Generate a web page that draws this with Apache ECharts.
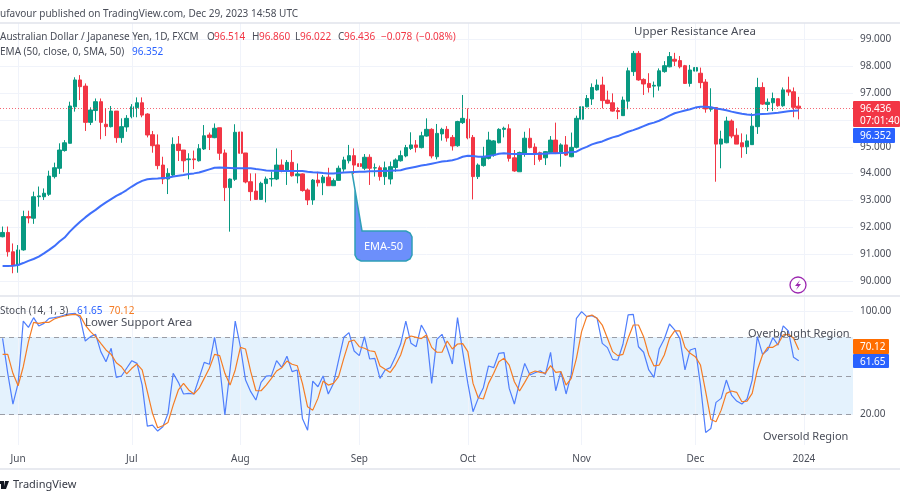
<!DOCTYPE html>
<html>
<head>
<meta charset="utf-8">
<title>AUD/JPY</title>
<style>
  html, body { margin: 0; padding: 0; background: #fff; }
  #chart { width: 900px; height: 500px; }
</style>
<script src="https://cdn.jsdelivr.net/npm/echarts@6/dist/echarts.min.js"></script>
</head>
<body>
<div id="chart"></div>
<script>
const days = [
  'May 29','May 30','May 31','Jun 1','Jun 2','Jun 5','Jun 6','Jun 7','Jun 8','Jun 9','Jun 12','Jun 13','Jun 14','Jun 15','Jun 16',
  'Jun 19','Jun 20','Jun 21','Jun 22','Jun 23','Jun 26','Jun 27','Jun 28','Jun 29','Jun 30','Jul 3','Jul 4','Jul 5','Jul 6','Jul 7',
  'Jul 10','Jul 11','Jul 12','Jul 13','Jul 14','Jul 17','Jul 18','Jul 19','Jul 20','Jul 21','Jul 24','Jul 25','Jul 26','Jul 27','Jul 28',
  'Jul 31','Aug 1','Aug 2','Aug 3','Aug 4','Aug 7','Aug 8','Aug 9','Aug 10','Aug 11','Aug 14','Aug 15','Aug 16','Aug 17','Aug 18',
  'Aug 21','Aug 22','Aug 23','Aug 24','Aug 25','Aug 28','Aug 29','Aug 30','Aug 31','Sep 1','Sep 4','Sep 5','Sep 6','Sep 7','Sep 8',
  'Sep 11','Sep 12','Sep 13','Sep 14','Sep 15','Sep 18','Sep 19','Sep 20','Sep 21','Sep 22','Sep 25','Sep 26','Sep 27','Sep 28','Sep 29',
  'Oct 2','Oct 3','Oct 4','Oct 5','Oct 6','Oct 9','Oct 10','Oct 11','Oct 12','Oct 13','Oct 16','Oct 17','Oct 18','Oct 19','Oct 20',
  'Oct 23','Oct 24','Oct 25','Oct 26','Oct 27','Oct 30','Oct 31','Nov 1','Nov 2','Nov 3','Nov 6','Nov 7','Nov 8','Nov 9','Nov 10',
  'Nov 13','Nov 14','Nov 15','Nov 16','Nov 17','Nov 20','Nov 21','Nov 22','Nov 23','Nov 24','Nov 27','Nov 28','Nov 29','Nov 30','Dec 1',
  'Dec 4','Dec 5','Dec 6','Dec 7','Dec 8','Dec 11','Dec 12','Dec 13','Dec 14','Dec 15','Dec 18','Dec 19','Dec 20','Dec 21','Dec 22',
  'Dec 25','Dec 26','Dec 27','Dec 28','Dec 29','Jan 1','Jan 2','Jan 3','Jan 4','Jan 5','Jan 8','Jan 9','Jan 10','Jan 11','Jan 12'
]
const monthDays = ['Jun 1', 'Jul 3', 'Aug 1', 'Sep 1', 'Oct 2', 'Nov 1', 'Dec 1', 'Jan 1']
const monthNames = ['Jun', 'Jul', 'Aug', 'Sep', 'Oct', 'Nov', 'Dec', '2024']
const priceTicks = [90, 91, 92, 93, 94, 95, 96, 97, 98, 99]
const stochGrid = [20, 60, 100]
const stochTicks = [20, 100]
const stochBands = [20, 50, 80]

// open, close, low, high
const ohlc = [
  [91.65,91.81,91.63,92.03],[91.81,91.09,90.91,92.03],[91.09,90.60,90.29,91.40],[90.60,91.16,90.31,91.34],[91.16,92.40,91.13,92.62],
  [92.40,92.35,92.15,92.62],[92.34,93.14,92.13,93.33],[93.14,93.17,92.77,93.52],[93.14,93.27,93.02,93.45],[93.23,93.91,93.17,94.11],
  [93.89,94.22,93.82,94.41],[94.20,94.88,93.99,95.13],[94.86,95.15,94.82,95.25],[95.13,96.52,95.13,96.68],[96.49,97.49,96.31,97.59],
  [97.49,97.24,96.74,97.67],[97.26,95.91,95.59,97.36],[95.91,96.37,95.81,96.47],[96.35,96.68,95.97,96.80],[96.68,95.91,95.28,96.80],
  [95.84,95.75,95.40,96.43],[95.75,96.33,95.72,96.52],[96.33,95.34,95.15,96.33],[95.34,95.75,95.15,96.06],[95.74,96.06,95.56,96.18],
  [96.12,96.49,96.06,96.59],[96.46,96.64,96.10,96.84],[96.64,96.18,96.10,96.84],[96.22,95.44,95.35,96.25],[95.45,95.04,94.78,95.59],
  [95.07,94.30,94.16,95.46],[94.32,93.80,93.61,94.63],[93.80,94.01,93.24,94.20],[93.95,95.09,93.89,95.35],[95.10,94.86,94.47,95.40],
  [94.88,94.48,94.05,94.88],[94.52,94.55,93.79,94.76],[94.55,94.52,94.17,94.86],[94.48,94.93,94.45,95.10],[94.92,95.41,94.88,95.81],
  [95.44,95.35,94.88,95.53],[95.34,95.69,95.32,95.87],[95.71,94.76,94.51,95.71],[94.77,93.48,92.98,94.90],[93.48,93.80,91.84,93.82],
  [93.79,95.54,93.73,95.84],[95.55,94.76,94.59,95.81],[94.77,93.69,93.64,94.77],[93.70,93.33,92.99,94.01],[93.35,93.04,93.04,94.01],
  [93.04,93.64,93.02,93.70],[93.63,93.80,92.93,93.89],[93.80,93.82,93.52,94.07],[93.80,94.32,93.76,94.94],[94.32,94.10,94.05,94.53],
  [94.10,94.42,93.58,94.51],[94.42,93.92,93.89,94.88],[93.92,93.99,93.64,94.38],[93.99,93.37,93.33,94.01],[93.39,93.02,92.83,93.45],
  [93.02,93.76,92.84,93.80],[93.76,93.66,93.52,94.07],[93.66,93.87,93.20,93.95],[93.87,93.55,93.55,94.22],[93.55,93.74,93.54,93.82],
  [93.75,94.20,93.74,94.30],[94.17,94.51,94.07,94.63],[94.48,94.67,94.38,95.07],[94.67,94.32,93.99,94.94],[94.37,94.27,93.89,94.38],
  [94.20,94.61,94.13,94.73],[94.61,94.20,93.58,94.72],[94.21,94.22,93.89,94.38],[94.22,93.89,93.74,94.30],[93.89,94.22,93.58,94.45],
  [93.80,94.26,93.60,94.45],[94.23,94.51,94.07,94.57],[94.48,94.67,94.45,94.86],[94.66,94.97,94.61,95.07],[94.94,95.07,94.88,95.54],
  [95.07,94.98,94.79,95.25],[94.97,95.41,94.94,95.56],[95.40,95.65,95.38,96.06],[95.65,94.66,94.57,95.69],[94.63,95.50,94.53,95.85],
  [95.48,95.65,95.23,95.71],[95.65,95.33,95.19,95.77],[95.35,95.03,94.86,95.44],[95.04,95.94,95.00,95.97],[95.90,96.06,95.85,96.93],
  [96.03,95.33,95.28,96.43],[95.35,93.89,93.04,95.44],[93.89,94.32,93.80,94.38],[94.30,94.61,94.26,95.00],[94.57,95.25,94.53,95.56],
  [94.69,95.22,94.63,95.25],[95.15,95.65,95.13,95.69],[95.65,95.69,95.35,95.75],[95.67,94.57,94.45,95.84],[94.59,94.10,94.07,94.88],
  [94.07,94.79,94.07,94.82],[94.76,95.32,94.63,95.56],[95.32,94.97,94.94,95.69],[94.99,94.76,94.32,95.13],[94.78,94.53,94.45,94.82],
  [94.59,94.82,94.32,94.84],[94.79,95.25,94.76,95.40],[95.25,94.76,94.73,95.90],[94.76,95.07,94.26,95.13],[95.07,94.69,94.66,95.40],
  [94.63,94.98,94.61,95.53],[94.98,96.06,94.94,96.16],[96.03,96.49,95.62,96.52],[96.49,96.80,96.47,96.93],[96.78,97.21,96.56,97.36],
  [97.12,97.30,97.09,97.51],[97.30,96.72,96.43,97.61],[96.74,96.62,96.59,97.09],[96.64,96.33,96.31,96.99],[96.35,96.31,96.03,96.47],
  [96.16,96.74,96.15,96.87],[96.70,97.83,96.40,97.95],[97.80,98.48,97.64,98.57],[98.48,97.49,97.46,98.57],[97.51,97.34,96.93,97.55],
  [97.36,97.21,97.02,97.74],[97.26,97.29,96.84,97.43],[97.26,97.83,97.09,97.92],[97.80,98.02,97.76,98.19],[97.98,98.36,97.96,98.53],
  [98.26,98.19,98.01,98.50],[98.21,97.98,97.92,98.38],[98.02,97.36,97.34,98.05],[97.36,97.86,97.24,98.05],[97.82,97.95,97.71,98.05],
  [97.74,97.39,97.18,97.95],[97.41,96.41,96.27,97.52],[96.40,96.47,96.31,97.18],[96.46,95.10,93.70,96.47],[95.10,95.29,94.20,95.60],
  [95.15,95.96,95.13,96.12],[95.96,95.40,95.32,96.02],[95.43,95.10,95.10,95.69],[95.15,95.00,94.59,95.50],[95.00,95.22,94.73,95.46],
  [95.08,95.77,95.07,96.25],[95.75,97.21,95.48,97.57],[97.21,96.59,96.56,97.40],[96.58,96.66,96.33,96.80],[96.64,96.80,96.33,97.02],
  [96.79,96.53,96.49,96.80],[96.53,97.12,96.49,97.21],[97.12,97.04,96.90,97.61],[97.05,96.47,96.10,97.21],[96.514,96.436,96.022,96.860]
]
const ema = [
  90.56,90.56,90.57,90.60,90.67,90.75,90.82,90.91,91.03,91.16,91.30,91.47,91.62,91.84,92.03,
  92.21,92.37,92.52,92.65,92.80,92.93,93.05,93.17,93.27,93.39,93.52,93.64,93.73,93.79,93.81,
  93.82,93.84,93.85,93.89,93.92,93.95,93.99,94.01,94.04,94.10,94.16,94.22,94.23,94.22,94.21,
  94.20,94.20,94.20,94.20,94.17,94.15,94.12,94.11,94.11,94.10,94.10,94.10,94.10,94.10,94.07,
  94.05,94.04,94.02,94.01,94.01,94.02,94.04,94.05,94.06,94.07,94.07,94.09,94.09,94.10,94.10,
  94.11,94.12,94.13,94.18,94.22,94.26,94.30,94.33,94.37,94.41,94.45,94.47,94.50,94.55,94.63,
  94.67,94.66,94.63,94.63,94.66,94.69,94.74,94.76,94.74,94.73,94.73,94.73,94.73,94.73,94.74,
  94.74,94.76,94.76,94.77,94.78,94.81,94.82,94.92,95.00,95.09,95.15,95.20,95.28,95.35,95.40,
  95.48,95.56,95.62,95.69,95.77,95.85,95.90,95.97,96.06,96.16,96.25,96.30,96.35,96.40,96.46,
  96.49,96.49,96.47,96.43,96.40,96.36,96.31,96.27,96.23,96.20,96.18,96.21,96.22,96.23,96.25,
  96.27,96.30,96.32,96.34,96.352
]
const stochK = [
  79.0,51.9,28.1,44.1,92.4,87.5,95.0,88.6,90.6,94.5,95.0,95.8,97.1,97.9,98.4,
  95.0,76.9,80.3,82.1,68.7,60.9,71.3,48.8,49.8,55.8,61.7,59.6,42.8,11.0,11.8,
  7.2,10.5,20.9,51.9,44.9,35.9,36.4,35.9,48.0,60.4,58.9,79.8,57.6,19.6,54.5,
  92.4,72.5,46.7,37.7,31.2,44.9,49.8,50.1,61.7,56.5,65.1,53.2,54.5,17.0,7.9,
  45.9,41.5,49.8,35.9,44.1,62.2,79.8,83.4,69.2,65.6,80.3,63.0,63.5,48.0,54.5,
  56.3,64.8,74.6,92.4,75.1,72.5,89.3,82.1,44.1,78.2,82.1,71.3,59.1,95.0,68.7,
  44.1,22.2,32.5,40.8,57.6,56.3,67.4,67.9,40.2,28.1,44.9,59.6,50.6,52.4,53.9,
  51.1,68.2,38.4,53.2,35.9,51.1,94.5,99.7,95.8,96.6,94.5,75.1,71.8,62.7,62.0,
  74.4,97.1,97.6,72.5,68.2,54.5,48.8,70.7,78.5,90.1,85.5,79.0,54.5,70.0,71.3,
  42.8,6.1,9.2,29.4,32.5,46.7,35.1,30.4,28.1,32.0,46.7,80.3,66.6,70.0,79.5,
  73.8,88.6,84.7,64.3,61.65
]
const stochD = [
  66.6,66.6,51.9,42.3,57.0,76.4,91.4,90.6,91.4,91.4,94.0,95.3,96.3,97.1,97.6,
  96.6,89.3,84.2,80.3,75.1,70.0,66.6,60.1,57.0,51.4,55.8,59.1,54.5,37.7,20.9,
  9.8,11.3,13.9,27.3,39.0,44.1,39.0,35.9,40.2,48.0,55.8,66.6,65.6,51.9,42.8,
  54.5,72.0,70.7,53.2,38.4,38.4,42.8,48.0,53.7,56.3,61.4,58.9,57.8,44.1,26.0,
  23.4,32.5,45.9,42.8,44.1,49.3,63.5,76.4,77.7,72.5,71.3,69.4,68.7,57.6,55.0,
  52.6,58.3,66.1,78.5,80.8,79.8,78.8,81.6,72.0,68.2,68.2,76.9,70.7,74.6,74.9,
  68.7,44.1,33.0,32.0,44.1,51.9,60.9,63.5,58.3,45.4,38.2,44.9,51.9,53.7,52.6,
  52.1,57.8,52.6,53.2,42.8,48.0,63.5,84.2,95.8,97.1,94.5,89.3,79.0,68.7,65.6,
  66.6,79.0,89.3,89.3,80.3,66.1,57.6,58.3,66.1,79.0,84.7,84.7,72.0,67.4,64.8,
  58.3,37.7,16.2,14.4,23.4,36.4,38.2,37.2,29.9,30.4,36.4,54.5,66.1,72.0,72.0,
  74.6,81.6,82.1,79.0,70.12
]
const lastClose = 96.436

const font = '"Noto Sans", sans-serif'
const up = '#089981'
const down = '#f23645'
const blue = '#2962ff'
const orange = '#f57c24'
const textGrey = '#4a4e59'
const gridGrey = '#f0f3fa'

function label(text, x, y, color, extra) {
  return {
    type: 'text',
    z: 20,
    style: Object.assign({ text, x, y: y + 1, fill: color || textGrey, font: '10px ' + font, textVerticalAlign: 'middle' }, extra)
  }
}
function box(x, y, width, height, color) {
  return { type: 'rect', z: 19, shape: { x, y, width, height, r: 1 }, style: { fill: color } }
}
function sep(y) {
  return { type: 'line', z: 18, shape: { x1: 0, y1: y, x2: 900, y2: y }, style: { stroke: '#e0e3eb', lineWidth: 1.5 } }
}
const monthLines = {
  silent: true,
  symbol: 'none',
  animation: false,
  label: { show: false },
  lineStyle: { color: gridGrey, type: 'solid', width: 1 },
  data: monthDays.map(d => ({ xAxis: d }))
}

const chart = echarts.init(document.getElementById('chart'), null, { renderer: 'canvas' })
chart.setOption({
  animation: false,
  backgroundColor: '#fff',
  grid: [
    { left: -2, top: 23, width: 855, height: 273 },
    { left: -2, top: 297, width: 855, height: 148 }
  ],
  xAxis: [
    {
      type: 'category', gridIndex: 0, data: days,
      axisLine: { show: false }, axisTick: { show: false }, axisLabel: { show: false }, splitLine: { show: false }
    },
    {
      type: 'category', gridIndex: 1, data: days,
      axisLine: { show: false }, axisTick: { show: false }, splitLine: { show: false },
      axisLabel: {
        margin: 9,
        fontFamily: font,
        fontSize: 10,
        color: textGrey,
        interval: (i, v) => monthDays.includes(v),
        formatter: v => monthNames[monthDays.indexOf(v)]
      }
    }
  ],
  yAxis: [
    {
      type: 'value', gridIndex: 0, position: 'right', min: 89.443, max: 99.611, scale: true,
      axisLine: { show: false },
      axisTick: { show: false, customValues: priceTicks },
      splitLine: { lineStyle: { color: gridGrey, width: 1 } },
      axisLabel: {
        customValues: priceTicks, margin: 7, fontFamily: font, fontSize: 10, color: textGrey, padding: [2, 0, 0, 0],
        formatter: v => v.toFixed(3)
      }
    },
    {
      type: 'value', gridIndex: 1, position: 'right', min: -3.6, max: 111,
      axisLine: { show: false },
      axisTick: { show: false, customValues: stochGrid },
      splitLine: { lineStyle: { color: gridGrey, width: 1 } },
      axisLabel: {
        customValues: stochTicks, margin: 7, fontFamily: font, fontSize: 10, color: textGrey, padding: [2, 0, 0, 0],
        formatter: v => v.toFixed(2)
      }
    }
  ],
  series: [
    {
      type: 'candlestick', name: 'AUDJPY', xAxisIndex: 0, yAxisIndex: 0, data: ohlc, barWidth: 4,
      itemStyle: { color: up, color0: down, borderColor: up, borderColor0: down, borderWidth: 1 },
      markLine: monthLines
    },
    {
      type: 'line', name: 'EMA', xAxisIndex: 0, yAxisIndex: 0, data: ema, showSymbol: false, smooth: false,
      lineStyle: { color: '#3f6ffb', width: 2 }, z: 5,
      markLine: {
        silent: true, symbol: 'none', animation: false, label: { show: false },
        lineStyle: { color: down, type: [1, 2], width: 1, opacity: 0.75 },
        data: [{ yAxis: lastClose }]
      }
    },
    {
      type: 'line', name: 'Band', xAxisIndex: 1, yAxisIndex: 1, data: stochK.map(() => null), z: 1,
      markArea: {
        silent: true,
        itemStyle: { color: '#e4f2fd' },
        data: [[{ yAxis: 20 }, { yAxis: 80 }]]
      },
      markLine: monthLines
    },
    {
      type: 'line', name: 'Levels', xAxisIndex: 1, yAxisIndex: 1, data: stochK.map(() => null), z: 2,
      markLine: {
        silent: true, symbol: 'none', animation: false, label: { show: false },
        lineStyle: { color: '#9a9da6', type: [5, 4], width: 1.2 },
        data: stochBands.map(v => ({ yAxis: v }))
      }
    },
    {
      type: 'line', name: '%K', xAxisIndex: 1, yAxisIndex: 1, data: stochK, showSymbol: false, z: 5,
      lineStyle: { color: '#4f7efc', width: 1.2 }
    },
    {
      type: 'line', name: '%D', xAxisIndex: 1, yAxisIndex: 1, data: stochD, showSymbol: false, z: 6,
      lineStyle: { color: orange, width: 1.2 }
    }
  ],
  graphic: [
    sep(23), sep(296), sep(469),
    label('ufavour published on TradingView.com, Dec 29, 2023 14:58 UTC', 0, 13),
    label('Australian Dollar / Japanese Yen, 1D, FXCM', 0, 36),
    label('O', 207, 36), label('96.514', 214, 36, down),
    label('H', 252, 36), label('96.860', 259, 36, down),
    label('L', 295, 36), label('96.022', 300, 36, down),
    label('C', 338, 36), label('96.436', 344, 36, down),
    label('−0.078', 381, 36, down), label('(−0.08%)', 416, 36, down),
    label('EMA (50, close, 0, SMA, 50)', 0, 51), label('96.352', 132, 51, blue),
    label('Stoch (14, 1, 3)', 0, 310), label('61.65', 77, 310, blue), label('70.12', 109, 310, orange),
    label('Upper Resistance Area', 634, 31, textGrey, { font: '11.5px ' + font }),
    label('Lower Support Area', 85, 322, textGrey, { font: '11.5px ' + font }),
    label('Overbought Region', 748, 333, textGrey, { font: '11px ' + font }),
    label('Oversold Region', 763, 436, textGrey, { font: '11px ' + font }),
    {
      type: 'polygon', z: 17,
      shape: { points: [[352, 172], [362, 231], [406, 231], [410, 233], [412, 237], [412, 255], [410, 259], [406, 261], [361, 261], [357, 259], [355, 255], [355, 190]] },
      style: { fill: '#6c8ffb', stroke: '#2f9fb8', lineWidth: 1.5 }
    },
    label('EMA-50', 383.5, 246, '#fff', { textAlign: 'center', font: '11px ' + font }),
    box(853, 101, 47, 26, down),
    label('96.436', 860, 108, '#fff'), label('07:01:40', 860, 120, '#fff'),
    box(853, 128, 42, 15, blue),
    label('96.352', 860, 135, '#fff'),
    box(853, 339, 36, 15, '#ff6d00'),
    label('70.12', 860, 346.5, '#fff'),
    box(853, 354, 36, 14, blue),
    label('61.65', 860, 361, '#fff'),
    {
      type: 'circle', z: 17, shape: { cx: 798, cy: 285, r: 8 },
      style: { fill: '#fff', stroke: '#9c27b0', lineWidth: 1.3 }
    },
    {
      type: 'polygon', z: 18,
      shape: { points: [[800, 280], [795, 286], [798, 286], [796, 290], [801, 284], [798, 284]] },
      style: { fill: '#9c27b0' }
    },
    {
      type: 'polygon', z: 18,
      shape: { points: [[0, 481], [4, 481], [4, 489], [1, 489], [1, 484], [0, 484]] },
      style: { fill: '#131722' }
    },
    {
      type: 'polygon', z: 18,
      shape: { points: [[5, 481], [9, 481], [6, 489], [3.5, 489]] },
      style: { fill: '#131722' }
    },
    label('TradingView', 13, 484, '#363a45', { font: '11px ' + font })
  ]
})
</script>
</body>
</html>
